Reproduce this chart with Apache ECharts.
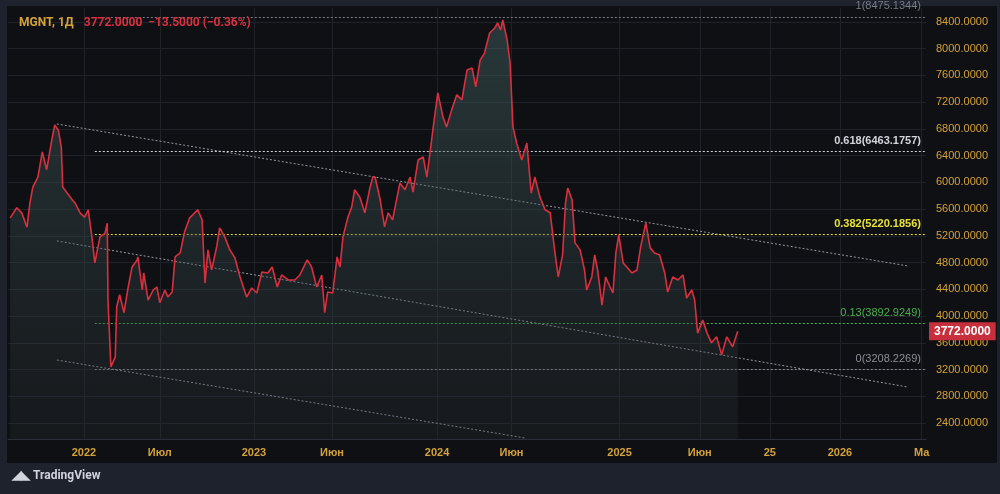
<!DOCTYPE html>
<html><head><meta charset="utf-8">
<script src="https://cdn.jsdelivr.net/npm/echarts@6/dist/echarts.min.js"></script>
<style>html,body{margin:0;padding:0;background:#1e222d;}#c{width:1000px;height:494px;}</style>
</head><body><div id="c"></div>
<script>
// x = approximate trading-day index since chart start
const priceX = [3,12,19,26,30,34,41,47,53,60,64,69,73,75,81,88,92,99,105,110,115,119,126,133,136,137,141,147,149,153,159,164,170,177,178,184,186,192,199,204,208,215,219,225,229,236,242,249,260,266,270,274,279,286,290,297,304,311,318,327,334,341,348,356,362,369,375,384,393,400,410,416,423,430,434,438,445,451,455,459,466,471,475,482,489,496,500,503,510,516,521,527,537,544,551,555,562,569,574,580,584,589,596,601,608,615,622,629,636,641,647,653,660,667,671,675,678,684,688,692,697,704,711,717,722,729,736,743,749,754,760,764,767,773,777,784,790,793,800,804,808,814,819,825,829,833,837,843,848,855,862,867,874,880,886,893,900,904,911,918,925,930,937,941,945,952,958,964,971,978,985,993,1000];
const priceY = [5470,5620,5540,5330,5690,5930,6080,6455,6190,6635,6860,6780,6530,5930,5840,5740,5690,5540,5480,5590,5180,4795,5180,5240,5390,4240,3240,3390,4140,4320,4050,4390,4735,4840,4885,4390,4645,4240,4390,4435,4200,4390,4285,4360,4885,4945,5260,5470,5590,5440,4495,4990,4690,5035,5320,5185,4990,4870,4585,4285,4420,4345,4660,4645,4735,4435,4615,4540,4540,4615,4840,4735,4435,4615,4050,4360,4345,4885,4735,5185,5485,5630,5890,5780,5545,5920,6080,6080,5740,5335,5545,5440,5990,5890,6080,5855,6335,6380,6080,6590,6935,7340,6980,6830,7085,7310,7235,7680,7710,7430,7830,7935,8235,8310,8385,8280,8430,8130,7790,6830,6590,6335,6590,5840,6080,5780,5590,5545,4990,4585,4915,5690,5915,5740,5095,4990,4690,4390,4585,4915,4690,4165,4585,4435,4345,4945,5215,4795,4735,4645,4690,5035,5395,5020,4945,4915,4645,4360,4585,4540,4615,4270,4390,4240,3745,3940,3745,3600,3690,3420,3690,3540,3772];
const tickX = [104,208,337,444,588,690,838,948,1044,1140,1252];
const tickLabels = ['2022','Июл','2023','Июн','2024','Июн','2025','Июн','25','2026','Ма'];
const yTicks = [2400,2800,3200,3600,4000,4400,4800,5200,5600,6000,6400,6800,7200,7600,8000,8400];
const fibLevels = [8475.1344,6463.1757,5220.1856,3892.9249,3208.2269];
const fibNames = ['1','0.618','0.382','0.13','0'];
const fibColors = ['#787b86','#d1d4dc','#e6e23a','#4caf50','#8a8d96'];
const fibStartX = 119;
const channels = [[[67,6874],[1233,4750]],[[67,5124],[1233,2939]],[[67,3343],[708,2177]]];
const lastPrice = 3772;
const xMax = 1258;

const chart = echarts.init(document.getElementById('c'));
const data = priceX.map((x,i)=>[x,priceY[i]]);
const series = [{
  type:'line', data, symbol:'none', lineStyle:{color:'#d9303f',width:1.6}, z:5,
  areaStyle:{origin:'start',color:new echarts.graphic.LinearGradient(0,0,0,1,[{offset:0,color:'rgba(75,112,112,0.6)'},{offset:1,color:'rgba(42,48,52,0.4)'}])},
  markLine:{symbol:'none',silent:true,lineStyle:{color:'transparent',width:0},
    label:{show:true,position:'end',formatter:lastPrice.toFixed(4),backgroundColor:'#c62f3b',color:'#fff',padding:[3,5],fontSize:12,fontWeight:'bold',distance:3},
    data:[{yAxis:lastPrice}]}
}];
fibLevels.forEach((v,i)=>{
  series.push({type:'line',data:[],markLine:{symbol:'none',silent:true,
    lineStyle:{color:fibColors[i],type:[2,2],width:1},
    label:{show:true,position:'insideEndTop',color:fibColors[i],fontSize:11,fontWeight:i<3&&i>0?'bold':'normal',formatter:fibNames[i]+'('+v.toFixed(4)+')'},
    data:[[{coord:[fibStartX,v]},{coord:[xMax,v]}]]}});
});
channels.forEach(c=>{
  series.push({type:'line',data:c,symbol:'none',lineStyle:{color:'#9598a1',type:[2,2],width:1},z:3});
});
chart.setOption({
  backgroundColor:'#1e222d',
  graphic:[{type:'rect',shape:{x:7,y:6,width:990,height:457},style:{fill:'#0f1013'},z:-10,silent:true},
    {type:'text',left:12,top:470,style:{text:'◢◣ TradingView',fill:'#d1d4dc',font:'bold 12px Roboto'}}],
  title:{left:14,top:9,text:'{a|MGNT, 1Д}  {b|3772.0000  −13.5000 (−0.36%)}',
    textStyle:{rich:{a:{color:'#d4a23a',fontSize:12,fontFamily:'Roboto'},b:{color:'#d9303f',fontSize:12,fontFamily:'Roboto'}}}},
  grid:{left:8,right:74,top:8,bottom:55},
  xAxis:{type:'value',min:0,max:xMax,
    axisLine:{show:true,lineStyle:{color:'#2a2e39'}},axisTick:{show:false,customValues:tickX},
    splitLine:{show:true,lineStyle:{color:'#1f2229'}},
    axisLabel:{customValues:tickX,formatter:v=>tickLabels[tickX.indexOf(v)]||'',color:'#d4a23a',fontWeight:'bold',fontSize:11,margin:8}},
  yAxis:{type:'value',position:'right',min:2161,max:8609,
    axisLine:{show:false},axisTick:{show:false,customValues:yTicks},
    splitLine:{show:true,lineStyle:{color:'#1f2229'}},
    axisLabel:{customValues:yTicks,formatter:v=>v.toFixed(4),color:'#d4a23a',fontSize:11,margin:10}},
  series, animation:false
});
</script></body></html>
